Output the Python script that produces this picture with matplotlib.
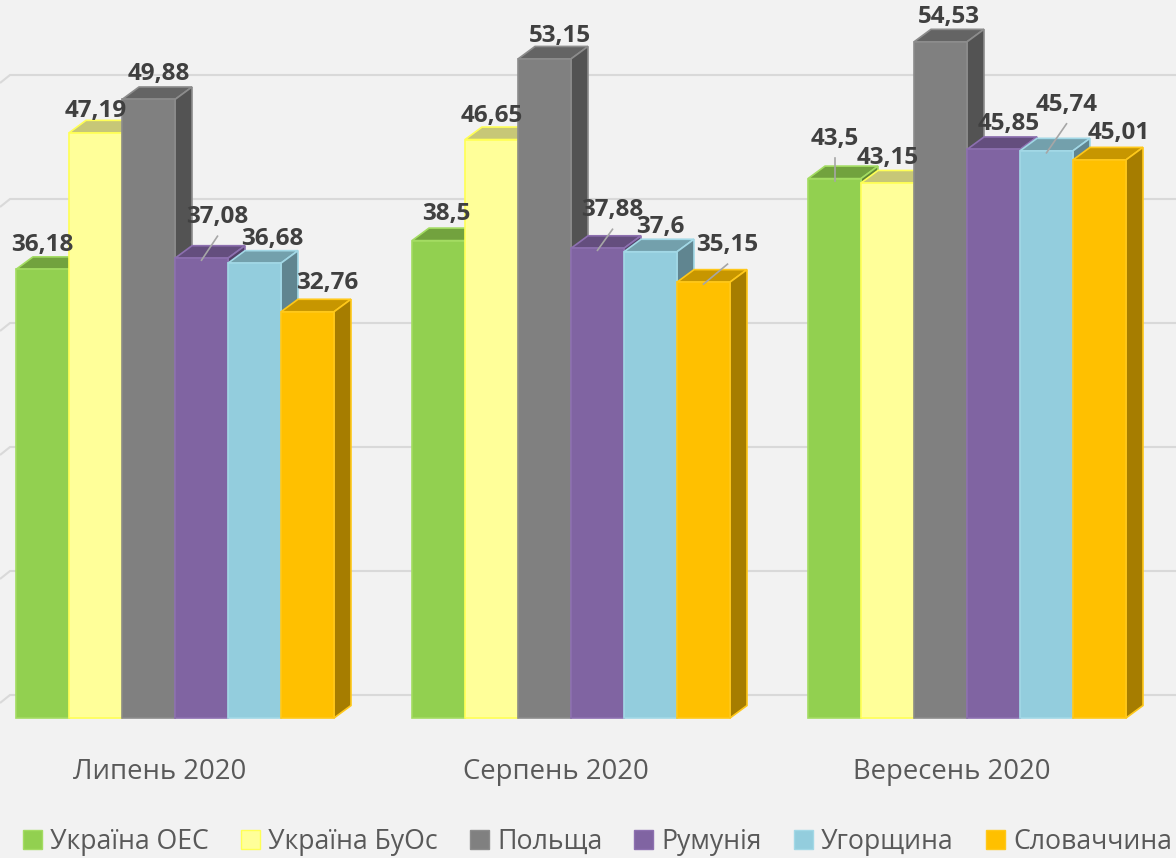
import matplotlib
matplotlib.use("Agg")
import matplotlib.pyplot as plt
from matplotlib.patches import Polygon, Patch
from matplotlib.colors import to_rgb

# data
months = ["Липень 2020", "Серпень 2020", "Вересень 2020"]
series = ["Україна ОЕС", "Україна БуОс", "Польща", "Румунія", "Угорщина", "Словаччина"]
ukr_oes = [36.18, 38.5, 43.5]
ukr_buos = [47.19, 46.65, 43.15]
poland = [49.88, 53.15, 54.53]
romania = [37.08, 37.88, 45.85]
hungary = [36.68, 37.6, 45.74]
slovakia = [32.76, 35.15, 45.01]
values = [ukr_oes, ukr_buos, poland, romania, hungary, slovakia]
grid_ticks = [0, 10, 20, 30, 40, 50]

colors = ["#92d050", "#ffff99", "#808080", "#8064a2", "#93cddd", "#ffc000"]
edges = ["#a3dc62", "#ffff55", "#8c8c8c", "#8d70b0", "#a2d8e6", "#ffc81a"]

# layout (pixel scale of the reference)
PXX = 396.0   # px per month group
PXY = 12.4    # px per value unit
W = 53 / PXX
DX = 17 / PXX
DY = 12.5 / PXY

# label offsets from the front top centre, in px: (dx, up, leader)
label_off = {
    (0, 0): (0, 24, False), (0, 1): (0, 22, False), (0, 2): (10, 25, False),
    (0, 3): (16, 41, True), (0, 4): (18, 24, False), (0, 5): (20, 29, False),
    (1, 0): (8, 27, False), (1, 1): (0, 24, False), (1, 2): (15, 23, False),
    (1, 3): (15, 38, True), (1, 4): (10, 25, False), (1, 5): (24, 37, True),
    (2, 0): (0, 40, True), (2, 1): (0, 25, False), (2, 2): (8, 25, False),
    (2, 3): (15, 25, False), (2, 4): (20, 46, True), (2, 5): (19, 27, False),
}


def shade(c, f):
    r, g, b = to_rgb(c)
    return (r * f, g * f, b * f)


fig = plt.figure(figsize=(11.76, 8.58), dpi=100, facecolor="#f2f2f2")
ax = fig.add_axes([0, 0, 1, 1])
ax.set_facecolor("#f2f2f2")
xl = -175 / PXX
ax.set_xlim(xl, xl + 1176 / PXX)
ax.set_ylim(-140 / PXY, (858 - 140) / PXY)
ax.axis("off")

# back wall gridlines
for v in grid_ticks:
    yb = v + 23 / PXY
    ax.plot([xl, xl + 10 / PXX, xl + 1176 / PXX], [yb - 8 / PXY, yb, yb],
            color="#d9d9d9", lw=1.5, zorder=1, solid_capstyle="butt")

for j, vals in enumerate(values):
    xs = [i + (j - 3) * W for i in range(len(months))]
    z = 10 + 2 * j
    for x0, h in zip(xs, vals):
        top = [(x0, h), (x0 + W, h), (x0 + W + DX, h + DY), (x0 + DX, h + DY)]
        side = [(x0 + W, 0), (x0 + W + DX, DY), (x0 + W + DX, h + DY), (x0 + W, h)]
        ax.add_patch(Polygon(top, closed=True, facecolor=shade(colors[j], 0.78),
                             edgecolor=edges[j], lw=1.2, zorder=z))
        ax.add_patch(Polygon(side, closed=True, facecolor=shade(colors[j], 0.65),
                             edgecolor=edges[j], lw=1.2, zorder=z))
    ax.bar(xs, vals, width=W, align="edge", color=colors[j],
           edgecolor=edges[j], lw=1.2, zorder=z + 1)

# data labels
for j, vals in enumerate(values):
    for i, h in enumerate(vals):
        cx = i + (j - 2.5) * W
        ox, up, leader = label_off[(i, j)]
        tx = cx + ox / PXX
        ty = h + up / PXY
        ax.text(tx, ty, str(h).replace(".", ","), ha="center", va="center",
                fontsize=17.5, fontweight="bold", color="#404040",
                family="Open Sans", zorder=40)
        if leader:
            ax.plot([tx, cx], [ty - 19 / PXY, h - 2 / PXY], color="#a6a6a6",
                    lw=1.2, zorder=39)

# category labels
for i, m in enumerate(months):
    ax.text(i - 15 / PXX, -54 / PXY, m, ha="center", va="center",
            fontsize=19.8, color="#595959", family="Open Sans")

handles = [Patch(facecolor=c, edgecolor=e, lw=1) for c, e in zip(colors, edges)]
fig.legend(handles, series, loc="center", bbox_to_anchor=(0.508, 0.019),
           ncol=6, frameon=False, prop={"family": "Open Sans", "size": 19.2},
           handlelength=0.72, handleheight=0.72, handletextpad=0.3,
           columnspacing=1.2, labelcolor="#595959", borderpad=0)

fig.savefig("out.png", dpi=100, facecolor=fig.get_facecolor())
